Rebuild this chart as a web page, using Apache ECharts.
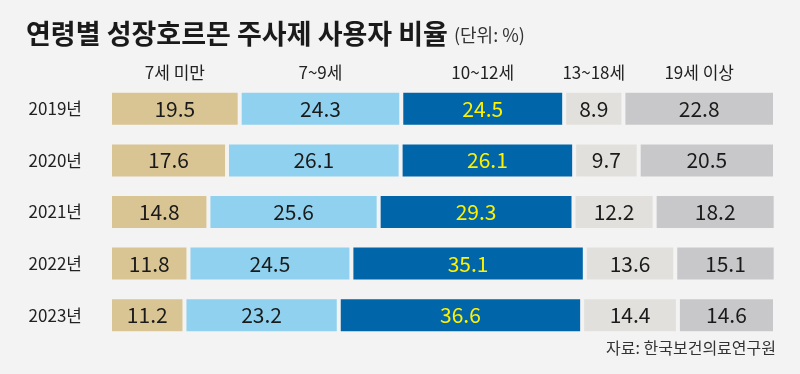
<!DOCTYPE html>
<html><head><meta charset="utf-8">
<script src="https://cdn.jsdelivr.net/npm/echarts@6/dist/echarts.min.js"></script>
<style>html,body{margin:0;padding:0;background:#f3f3f3;}#c{width:800px;height:374px;}</style>
</head><body><div id="c"></div>
<script>
const years = ['2019년','2020년','2021년','2022년','2023년'];
const groups = ['7세 미만','7~9세','10~12세','13~18세','19세 이상'];
const under7 = [19.5,17.6,14.8,11.8,11.2];
const age7to9 = [24.3,26.1,25.6,24.5,23.2];
const age10to12 = [24.5,26.1,29.3,35.1,36.6];
const age13to18 = [8.9,9.7,12.2,13.6,14.4];
const over19 = [22.8,20.5,18.2,15.1,14.6];
const seriesData = [under7, age7to9, age10to12, age13to18, over19];
const colors = ['#d8c593','#8fd1ee','#0065a9','#e2e0dc','#c8c8ca'];
const labelColors = ['#1a1a1a','#1a1a1a','#fff200','#1a1a1a','#1a1a1a'];
const FONT = '"Noto Sans CJK KR", "Noto Sans", sans-serif';

let cum = 0;
const series = seriesData.map((d, i) => {
  const mid = cum + d[0] / 2;
  cum += d[0];
  return {
    name: groups[i], type: 'bar', stack: 'total', data: d, barWidth: 36,
    itemStyle: { color: colors[i], borderColor: '#f3f3f3', borderWidth: 2 },
    label: { show: true, position: 'inside', color: labelColors[i], fontSize: 21, fontFamily: FONT,
      formatter: p => p.value.toFixed(1) },
    markPoint: {
      symbol: 'rect', symbolSize: 1, itemStyle: { color: 'rgba(0,0,0,0)' },
      label: { show: true, position: 'inside', offset: [0, -36], formatter: groups[i],
        color: '#222', fontSize: 17, fontFamily: FONT },
      data: [{ coord: [mid, years[0]] }]
    }
  };
});

const chart = echarts.init(document.getElementById('c'));
chart.setOption({
  backgroundColor: '#f3f3f3',
  animation: false,
  title: {
    text: '연령별 성장호르몬 주사제 사용자 비율{u|(단위: %)}',
    left: 21, top: 15,
    textStyle: { fontSize: 27, fontWeight: 'bold', color: '#1a1a1a', fontFamily: FONT,
      rich: { u: { fontSize: 18, fontWeight: 'normal', color: '#333', fontFamily: FONT, padding: [4,0,0,6] } } }
  },
  graphic: [{ type: 'text', right: 24, top: 340,
    style: { text: '자료: 한국보건의료연구원', fontSize: 16, fill: '#333', fontFamily: FONT } }],
  grid: { left: 110, right: 25, top: 83, height: 258 },
  xAxis: { type: 'value', min: 0, max: 100, show: false },
  yAxis: { type: 'category', data: years, inverse: true,
    axisLine: { show: false }, axisTick: { show: false },
    axisLabel: { color: '#222', fontSize: 17, margin: 28, fontFamily: FONT } },
  series: series
});
</script></body></html>
